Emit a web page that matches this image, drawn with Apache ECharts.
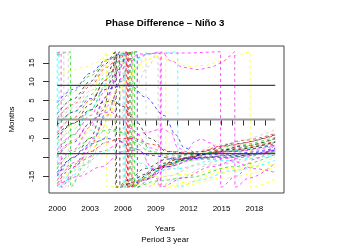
<!DOCTYPE html>
<html><head><meta charset="utf-8">
<script src="https://cdn.jsdelivr.net/npm/echarts@6/dist/echarts.min.js"></script>
<style>html,body{margin:0;padding:0;background:#fff}#c{width:350px;height:250px}</style>
</head><body><div id="c"></div>
<script>
// ---- data ----
const xTickYears = [2000,2001,2002,2003,2004,2005,2006,2007,2008,2009,2010,2011,2012,2013,2014,2015,2016,2017,2018,2019];
const xLabelYears = [2000,2003,2006,2009,2012,2015,2018];
const yTickValues = [-15,-10,-5,0,5,10,15];
const yLabelValues = [-15,-5,0,5,10,15];
const refLevels = [9, 0, -9];
const refStart = 2000, refEnd = 2019.9;

const line01 = [[2000,4.5],[2001.5,8],[2003,12.2],[2004.5,15.8],[2005.8,17.3],[2007.3,17.9],[2007.32,-17.9],[2008.5,-15.5],[2010,-12.5],[2012,-10],[2015,-8.5],[2019.9,-6.8]];
const line02 = [[2000,3.5],[2001.5,7.5],[2003,11.5],[2004.5,15.5],[2005.8,17.3],[2006.9,17.9],[2006.92,-17.9],[2008,-15.5],[2010,-12],[2013,-9.5],[2016,-7.5],[2019.9,-5.2]];
const line03 = [[2000,1.5],[2001.5,5.5],[2003,10],[2004.3,14.5],[2005.4,17.9],[2005.42,-17.9],[2006.5,-16],[2008,-13],[2010,-10.5],[2013,-8.5],[2016,-6.5],[2019.9,-4]];
const line04 = [[2000,0.3],[2001.5,4],[2003,8.8],[2004.5,13.8],[2005.7,16.8],[2006.5,17.9],[2006.52,-17.9],[2007.5,-16],[2009,-13],[2011,-10.5],[2014,-8],[2017,-5.5],[2019.9,-3.7]];
const line05 = [[2000,-0.8],[2001.5,3],[2003,7.5],[2004.5,12.5],[2005.5,16],[2006,17.9],[2006.02,-17.9],[2007.5,-15],[2009.5,-11.5],[2012,-9],[2015,-6.5],[2019.9,-2.7]];
const line06 = [[2000,-2],[2001.5,2],[2003,6.5],[2004.5,11.5],[2005.8,15.5],[2006.7,17.9],[2006.72,-17.9],[2008,-15.5],[2010,-12],[2013,-9.3],[2016,-7],[2019.9,-4.7]];
const line07 = [[2000,-3.5],[2001.5,0.5],[2003,5],[2004.5,10.5],[2005.6,15.5],[2006.3,17.9],[2006.32,-17.9],[2007.5,-16],[2009.5,-12.5],[2012,-10],[2015,-8],[2019.9,-5.8]];
const line08 = [[2000,-5],[2001.5,-1],[2003,4],[2004.3,10],[2005.2,15],[2005.7,17.9],[2005.72,-17.9],[2007,-16.5],[2009,-13],[2011,-10.5],[2014,-9],[2017,-7],[2019.9,-5]];
const line09 = [[2000,-6.5],[2001.5,-2.5],[2003,2.5],[2004.5,9.5],[2005.5,15],[2006.1,17.9],[2006.12,-17.9],[2007.5,-15.5],[2009.5,-12],[2012,-10],[2015,-8.5],[2019.9,-6.5]];
const line10 = [[2000,-8],[2001.5,-4],[2003,1],[2004.5,8],[2005.8,14.5],[2006.6,17.9],[2006.62,-17.9],[2008,-16],[2010,-12.5],[2013,-10],[2016,-8.5],[2019.9,-7]];
const line11 = [[2000,-10],[2001.5,-6],[2003,-1],[2004.5,6],[2005.7,13.5],[2006.4,17.9],[2006.42,-17.9],[2007.8,-16],[2010,-12.5],[2013,-10.2],[2016,-9.3],[2019.9,-8]];
const line12 = [[2000,-12],[2001.5,-8],[2003,-3],[2004.5,4.5],[2005.6,12.5],[2006.2,17.9],[2006.22,-17.9],[2007.5,-16],[2009.5,-13],[2012,-10.5],[2015,-8.3],[2019.9,-5.9]];
const line13 = [[2000,-14],[2001.5,-10],[2003,-5],[2004.2,2.5],[2005,11],[2005.3,17.9],[2005.32,-17.9],[2006.5,-17],[2008,-14.5],[2010,-11.5],[2013,-10],[2016,-9.5],[2019.9,-8.5]];
const line14 = [[2000,-16],[2001.5,-12],[2003,-7],[2004.5,1],[2005.8,10],[2006.8,17.9],[2006.82,-17.9],[2008,-16],[2010,-12],[2012,-10],[2015,-7],[2019.9,-4.2]];
const line15 = [[2000,-17.5],[2001.5,-13.5],[2003,-8.5],[2004.5,-1],[2005.5,6],[2006.5,11.5],[2007.3,14],[2008,15.5],[2009,16.5],[2010.5,15.5],[2012,14],[2013.5,14.3],[2015,15.5],[2016.5,17],[2017.6,17.9],[2017.62,-17.9],[2019.9,-15.8]];
const line16 = [[2000,17.2],[2000.15,17.9],[2000.17,-17.9],[2001.5,-13],[2003,-6.5],[2004.5,2],[2006,11],[2007,15.5],[2008,17.2],[2009.5,17.5],[2011,17.9],[2011.02,-17.9],[2013,-16],[2016,-13.5],[2019.9,-10.8]];
const line17 = [[2000,17.6],[2000.35,17.9],[2000.37,-17.9],[2001.8,-12],[2003.3,-5],[2004.8,4],[2006,11.5],[2007.2,16.3],[2008.5,17.4],[2009.4,17.9],[2009.42,-17.9],[2011.5,-15.5],[2014,-12.5],[2017,-10],[2019.9,-7.8]];
const line18 = [[2000,16.8],[2000.6,17.9],[2000.62,-17.9],[2002,-12.5],[2003.5,-6],[2005,2],[2006.5,10],[2007.5,14.5],[2008.1,17.9],[2008.12,-17.9],[2010,-15],[2013,-12],[2016,-10],[2019.9,-7.5]];
const line19 = [[2000,17],[2001.2,17.9],[2001.22,-17.9],[2002.5,-12],[2004,-5.5],[2005,-3],[2006,-3.5],[2007,-6],[2008.5,-8.5],[2011,-9.5],[2015,-8.5],[2019.9,-6]];
const line20 = [[2000,17.8],[2000.03,-17.9],[2001,-16],[2002.5,-12],[2004,-9],[2005,-8],[2006,-8.8],[2007.5,-11.5],[2009,-13.5],[2011,-13],[2014,-11],[2019.9,-9.5]];
const line21 = [[2000,17.4],[2001,17.9],[2001.02,-17.9],[2002.3,-14],[2004,-7],[2005.5,0],[2007,8],[2008.3,14],[2009.2,17.9],[2009.22,-17.9],[2011,-15.5],[2014,-12],[2019.9,-8.8]];
const line22 = [[2000,-4],[2001.5,-1],[2003,2.5],[2004.2,4.5],[2005,5],[2006,3.5],[2007,0],[2008.5,-5],[2010,-8.5],[2013,-9.2],[2016,-8],[2019.9,-6]];
const line23 = [[2000,-9.5],[2001.5,-5.5],[2003,-1],[2004,1.5],[2004.8,2],[2005.8,0.5],[2007,-3],[2008.5,-7.5],[2010.5,-10],[2014,-10.5],[2019.9,-8.3]];
const line24 = [[2000,-1.5],[2001.5,2],[2003,5.5],[2004.5,8],[2005.8,9],[2006.8,8.8],[2008,6],[2009.8,1],[2010.8,-4],[2011.6,-7.5],[2013,-9.3],[2016,-9],[2019.9,-7.6]];
const line25 = [[2000,-15],[2001.5,-10],[2003,-6.5],[2004.5,-5],[2005.5,-5.5],[2006.8,-7.5],[2008.5,-9.5],[2011,-10.5],[2015,-10],[2019.9,-8.1]];
const line26 = [[2000,-17],[2001.5,-12.5],[2003,-8.5],[2004.5,-6],[2005.8,-5],[2007,-5],[2008.5,-6.5],[2010.5,-8.5],[2013,-9],[2016,-8.5],[2019.9,-6.3]];
const line27 = [[2000,-13],[2001.5,-8.5],[2003,-5],[2004.2,-3],[2005,-2.6],[2006.2,-3.5],[2007.5,-6],[2009,-9],[2011,-11],[2015,-10],[2019.9,-8.6]];
const line28 = [[2000,11.5],[2001,12.8],[2002.5,13.8],[2003.5,15],[2004.5,16.8],[2005.3,17.9],[2005.32,-17.9],[2006.5,-16.5],[2009,-15],[2012,-14.5],[2015,-13],[2019.9,-11.8]];
const line29 = [[2000,-12],[2001.5,-8],[2003,-2],[2004.5,6],[2005.7,12.5],[2006.6,16],[2007.5,17.3],[2009,17.5],[2012,17.6],[2014.9,17.9],[2014.92,-17.9],[2016.3,-15],[2018,-10.5],[2019.9,-6.6]];
const line30 = [[2000,-17.5],[2002,-15],[2004,-12.5],[2006,-8.5],[2007.5,-8],[2008.7,-13],[2009.48,-17.9],[2009.5,17.9],[2010.4,15.5],[2011.5,13.8],[2012.9,13.2],[2014,13.8],[2015,15],[2015.8,16.8],[2016.2,17.9],[2016.22,-17.9],[2017.5,-15.5],[2019.9,-11.5]];
const line31 = [[2000,-14.5],[2002,-11],[2004,-8.5],[2006,-6],[2008,-3.5],[2009.6,-2.5],[2010.4,-3.5],[2011,-7.5],[2011.8,-8.5],[2012.5,-6],[2013.1,-5.2],[2014,-6.2],[2014.9,-8.8],[2016,-11],[2018,-13],[2019.9,-14]];
const line32 = [[2000,-6],[2001.5,-1.5],[2003,5],[2004,12],[2004.5,17.9],[2004.52,-17.9],[2006,-17.5],[2008,-17],[2010,-17.5],[2012,-16.5],[2015,-14],[2019.9,-10]];
const line33 = [[2000,-10],[2002,-5],[2004,2],[2006,9],[2007.5,13.5],[2008.8,16.5],[2009.9,17.9],[2009.92,-17.9],[2012,-17.2],[2015,-15.5],[2019.9,-12.5]];
const line34 = [[2000,-9],[2001.5,-4],[2003,2.5],[2004.5,9],[2005.8,14.5],[2007.05,17.9],[2007.07,-17.9],[2009,-16.3],[2012,-15.3],[2016,-12.5],[2019.9,-9.2]];
const line35 = [[2000,0],[2001.5,4.5],[2003,9.5],[2004.5,14.5],[2005.5,17],[2006.2,17.9],[2006.22,-17.9],[2007.5,-16.3],[2009.5,-13.5],[2012,-11],[2015,-9.5],[2019.9,-8.8]];

// ---- styles ----
const K='#000000', R='#FF0000', G='#00CD00', B='#0000FF', C='#00FFFF', M='#FF00FF', Y='#FFFF00', Gy='#BEBEBE';
const phaseLines = [
  [line01,B],[line02,G],[line03,K],[line04,R],[line05,Gy],[line06,G],[line07,R],[line08,K],
  [line09,C],[line10,M],[line11,B],[line12,Gy],[line13,K],[line14,R],[line15,Y],[line16,C],
  [line17,M],[line18,Gy],[line19,G],[line20,C],[line21,Gy],[line22,K],[line23,M],[line24,B],
  [line25,B],[line26,R],[line27,G],[line28,Y],[line29,M],[line30,M],[line31,M],[line32,Y],
  [line33,Y],[line34,G],[line35,Gy]
];
const FONT = 'Liberation Sans, Arial, Helvetica, sans-serif';

const series = phaseLines.map(([d, col]) => ({
  type: 'line', data: d, showSymbol: false, symbol: 'none',
  smooth: 0.35, smoothMonotone: 'x', silent: true, animation: false,
  lineStyle: { color: col, width: 0.8, type: [3, 3], opacity: 0.85 }, z: 2
}));
refLevels.forEach(v => {
  series.push({
    type: 'line', data: [[refStart, v], [refEnd, v]], symbol: 'none', silent: true, animation: false,
    lineStyle: { color: v === 0 ? '#9a9a9a' : '#444444', width: v === 0 ? 1.8 : 1.2, type: 'solid' }, z: 5
  });
});

const chart = echarts.init(document.getElementById('c'), null, { renderer: 'canvas' });
chart.setOption({
  animation: false,
  backgroundColor: '#ffffff',
  grid: { left: 46, right: 66, top: 46, bottom: 57, show: true, borderColor: '#444', borderWidth: 1, backgroundColor: 'transparent' },
  xAxis: {
    type: 'value', min: 1999.25, max: 2020.7,
    axisLine: { show: false },
    axisTick: { show: true, customValues: xTickYears, length: 6, lineStyle: { color: '#333' } },
    axisLabel: { customValues: xLabelYears, formatter: v => String(Math.round(v)), fontSize: 8, color: '#000', margin: 12, fontFamily: FONT },
    splitLine: { show: false }
  },
  yAxis: {
    type: 'value', min: -19.44, max: 19.44,
    name: 'Months', nameLocation: 'middle', nameGap: 33,
    nameTextStyle: { fontSize: 8, color: '#000', fontFamily: FONT },
    axisLine: { show: false },
    axisTick: { show: true, customValues: yTickValues, length: 6, lineStyle: { color: '#333' } },
    axisLabel: { customValues: yLabelValues, formatter: v => String(Math.round(v)), rotate: 90, fontSize: 8, color: '#000', margin: 13, fontFamily: FONT },
    splitLine: { show: false }
  },
  graphic: [
    { type: 'text', x: 165, y: 23, style: { text: 'Phase Difference – Niño 3', fontSize: 9.7, fontWeight: 'bold', fontFamily: FONT, fill: '#000', textAlign: 'center', textVerticalAlign: 'middle' } },
    { type: 'text', x: 165, y: 229, style: { text: 'Years', fontSize: 8, fontFamily: FONT, fill: '#000', textAlign: 'center', textVerticalAlign: 'middle' } },
    { type: 'text', x: 165, y: 240, style: { text: 'Period 3 year', fontSize: 8, fontFamily: FONT, fill: '#000', textAlign: 'center', textVerticalAlign: 'middle' } }
  ],
  series: series
});
</script></body></html>
